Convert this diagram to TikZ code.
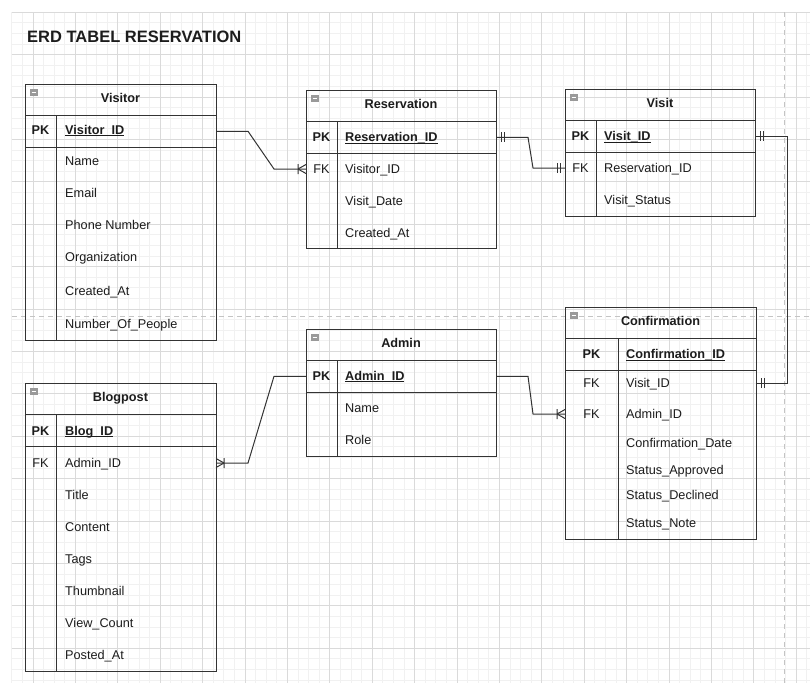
\documentclass[tikz,border=0pt]{standalone}
\usepackage{fontspec}
\setmainfont{Liberation Sans}
\usetikzlibrary{calc}

\definecolor{inkline}{HTML}{333333}
\definecolor{inktext}{HTML}{1C1C1C}
\definecolor{gridmajor}{HTML}{DADADA}
\definecolor{gridminor}{HTML}{F1F1F1}
\definecolor{pagebreak}{HTML}{C4C4C4}
\definecolor{iconfill}{HTML}{9A9A9A}

\newcommand\erfont{\fontsize{12.7}{15.2}\selectfont}
% key attribute: text with a rule just under the baseline
\newcommand\keyname[1]{\setbox0\hbox{#1}\rlap{\rule[-2.2pt]{\wd0}{0.8pt}}\box0}

\tikzset{
  tbl/.style={draw=inkline, line width=1pt},
  sepline/.style={draw=inkline, line width=1pt},
  rowspan/.style={inner sep=0pt, outer sep=0pt, anchor=north west},
  hdr/.style={font=\erfont\bfseries, text=inktext, anchor=base, inner sep=0pt},
  fld/.style={font=\erfont, text=inktext, anchor=base west, inner sep=0pt},
  pkfld/.style={font=\erfont\bfseries, text=inktext, anchor=base west, inner sep=0pt},
  tag/.style={font=\erfont, text=inktext, anchor=base, inner sep=0pt},
  pktag/.style={font=\erfont\bfseries, text=inktext, anchor=base, inner sep=0pt},
  link/.style={draw=inkline, line width=1pt},
  gridmin/.style={draw=gridminor, line width=0.8pt},
  gridmaj/.style={draw=gridmajor, line width=0.9pt},
  pagebrk/.style={draw=pagebreak, line width=1pt, dash pattern=on 5pt off 4pt},
  % crow's foot with a bar (one-to-many), entity on the +x side
  crowmany/.pic={\draw[link] (-8,0) -- (0,-4.5) (-8,0) -- (0,4.5) (-8,-5) -- (-8,5);},
  % two bars (mandatory one), entity on the +x side
  barone/.pic={\draw[link] (-5,-5) -- (-5,5) (-8,-5) -- (-8,5);},
}

% table frame: name, left, top, right, bottom, key column x, title
\newcommand\ertable[7]{%
  \node[tbl, rowspan, minimum width={#4-#2}, minimum height={#5-#3}] (#1) at (#2,#3) {};
  \draw[sepline] (#2,#3+31.5) -- (#4,#3+31.5);
  \draw[sepline] (#2,#3+63) -- (#4,#3+63);
  \draw[sepline] (#6,#3+31.5) -- (#6,#5);
  \path[fill=iconfill, draw=gray!80, line width=0.4pt] (#2+5,#3+5) rectangle ++(7,6);
  \draw[white, line width=0.9pt] (#2+6.5,#3+8) -- ++(4,0);
  \node[hdr] (#1-title) at ({(#2+#4)/2},#3+18.5) {#7};
}

\begin{document}
\begin{tikzpicture}[x=1pt, y=-1pt]
\useasboundingbox (0,0) rectangle (810,683);
\fill[white] (0,0) rectangle (810,683);

% background grid
\foreach \i in {0,...,75} \draw[gridmin] ({11.8+\i*10.6},12.2) -- ({11.8+\i*10.6},683);
\foreach \j in {0,...,63} \draw[gridmin] (11.8,{12.2+\j*10.6}) -- (810,{12.2+\j*10.6});
\foreach \i in {0,...,18} \draw[gridmaj] ({33+\i*42.4},12.2) -- ({33+\i*42.4},683);
\foreach \j in {0,...,15} \draw[gridmaj] (11.8,{12.2+\j*42.4}) -- (810,{12.2+\j*42.4});

% page breaks
\draw[pagebrk] (11.8,316) -- (810,316);
\draw[pagebrk] (784,12.2) -- (784,683);

% title
\node[font=\bfseries\fontsize{16.5}{20}\selectfont, text=inktext, anchor=base west, inner sep=0pt] (title) at (27,42) {ERD TABEL RESERVATION};

% Visitor
\ertable{visitor}{25}{84}{216}{340}{56}{Visitor}
\node[rowspan, minimum width=191, minimum height=31.5] (visitorPK) at (25,115.5) {};
\node[pktag] at (40.5,134) {PK};
\node[pkfld] at (65,134) {\keyname{Visitor\_ID}};
\node[fld] at (65,165.5) {Name};
\node[fld] at (65,197.5) {Email};
\node[fld] at (65,229.5) {Phone Number};
\node[fld] at (65,261.5) {Organization};
\node[fld] at (65,295.5) {Created\_At};
\node[fld] at (65,328.5) {Number\_Of\_People};

% Reservation
\ertable{reservation}{306}{90}{496}{248}{337}{Reservation}
\node[rowspan, minimum width=190, minimum height=31.5] (resPK) at (306,121.5) {};
\node[rowspan, minimum width=190, minimum height=32] (resFK) at (306,153) {};
\node[pktag] at (321.5,141.5) {PK};
\node[pkfld] at (345,141.5) {\keyname{Reservation\_ID}};
\node[tag] at (321.5,173.5) {FK};
\node[fld] at (345,173.5) {Visitor\_ID};
\node[fld] at (345,205) {Visit\_Date};
\node[fld] at (345,237) {Created\_At};

% Visit
\ertable{visit}{565}{89}{755}{216}{596}{Visit}
\node[rowspan, minimum width=190, minimum height=31.5] (visitPK) at (565,120.5) {};
\node[rowspan, minimum width=190, minimum height=32] (visitFK) at (565,152) {};
\node[pktag] at (580.5,140.5) {PK};
\node[pkfld] at (604,140.5) {\keyname{Visit\_ID}};
\node[tag] at (580.5,172) {FK};
\node[fld] at (604,172) {Reservation\_ID};
\node[fld] at (604,204) {Visit\_Status};

% Admin
\ertable{admin}{306}{329}{496}{456}{337}{Admin}
\node[rowspan, minimum width=190, minimum height=31.5] (adminPK) at (306,360.5) {};
\node[pktag] at (321.5,380) {PK};
\node[pkfld] at (345,380) {\keyname{Admin\_ID}};
\node[fld] at (345,412) {Name};
\node[fld] at (345,444) {Role};

% Confirmation
\ertable{confirmation}{565}{307}{756}{539}{618}{Confirmation}
\node[rowspan, minimum width=191, minimum height=26] (confVisit) at (565,370) {};
\node[rowspan, minimum width=191, minimum height=32] (confAdmin) at (565,398) {};
\node[pktag] at (591.5,358.5) {PK};
\node[pkfld] at (626,358.5) {\keyname{Confirmation\_ID}};
\node[tag] at (591.5,387.5) {FK};
\node[fld] at (626,387.5) {Visit\_ID};
\node[tag] at (591.5,418.5) {FK};
\node[fld] at (626,418.5) {Admin\_ID};
\node[fld] at (626,447) {Confirmation\_Date};
\node[fld] at (626,474.3) {Status\_Approved};
\node[fld] at (626,499.5) {Status\_Declined};
\node[fld] at (626,527.3) {Status\_Note};

% Blogpost
\ertable{blogpost}{25}{383}{216}{671}{56}{Blogpost}
\node[rowspan, minimum width=191, minimum height=32] (blogFK) at (25,447) {};
\node[pktag] at (40.5,435) {PK};
\node[pkfld] at (65,435) {\keyname{Blog\_ID}};
\node[tag] at (40.5,467.3) {FK};
\node[fld] at (65,467.3) {Admin\_ID};
\node[fld] at (65,499.3) {Title};
\node[fld] at (65,531.5) {Content};
\node[fld] at (65,563.3) {Tags};
\node[fld] at (65,595.3) {Thumbnail};
\node[fld] at (65,627) {View\_Count};
\node[fld] at (65,659.3) {Posted\_At};

% relationships
\draw[link] (visitorPK.east) -- ++(32,0) -- ($(resFK.west)+(-32,0)$) -- (resFK.west);
\pic at (resFK.west) {crowmany};

\draw[link] (resPK.east) -- ++(32,0) -- ($(visitFK.west)+(-32,0)$) -- (visitFK.west);
\pic[xscale=-1] at (resPK.east) {barone};
\pic at (visitFK.west) {barone};

\draw[link] (visitPK.east) -- ++(32,0) |- (confVisit.east);
\pic[xscale=-1] at (visitPK.east) {barone};
\pic[xscale=-1] at (confVisit.east) {barone};

\draw[link] (adminPK.east) -- ++(32,0) -- ($(confAdmin.west)+(-32,0)$) -- (confAdmin.west);
\pic at (confAdmin.west) {crowmany};

\draw[link] (adminPK.west) -- ++(-32,0) -- ($(blogFK.east)+(32,0)$) -- (blogFK.east);
\pic[xscale=-1] at (blogFK.east) {crowmany};
\end{tikzpicture}
\end{document}
